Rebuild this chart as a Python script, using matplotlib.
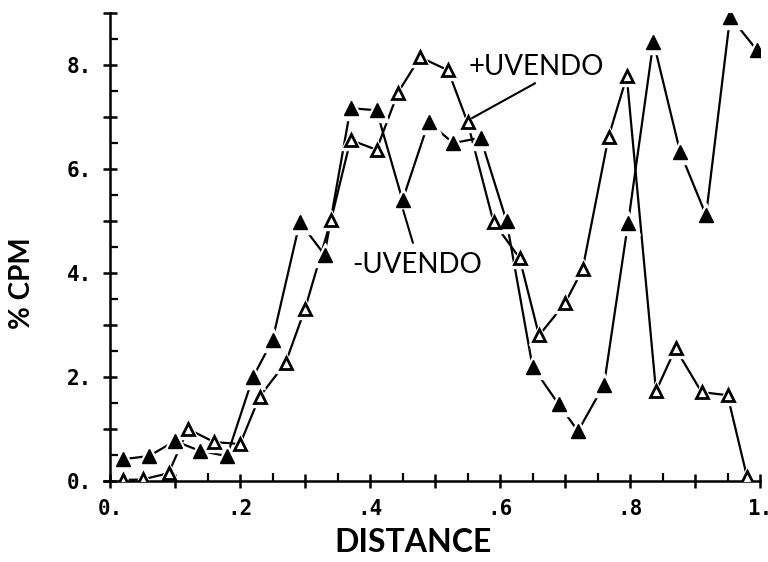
import numpy as np
import matplotlib
matplotlib.use('Agg')
import matplotlib.pyplot as plt
from matplotlib.ticker import MultipleLocator, FuncFormatter

# -UVENDO (filled triangles)
minus_x = [0.02, 0.06, 0.10, 0.138, 0.18, 0.22, 0.25, 0.292, 0.33, 0.37, 0.41, 0.45, 0.49,
           0.528, 0.57, 0.61, 0.65, 0.69, 0.72, 0.76, 0.797, 0.836, 0.877, 0.917, 0.954, 0.995]
minus_y = [0.42, 0.48, 0.77, 0.58, 0.48, 2.0, 2.71, 4.98, 4.35, 7.17, 7.13, 5.4, 6.9,
           6.5, 6.6, 5.0, 2.2, 1.48, 0.96, 1.85, 4.96, 8.45, 6.33, 5.11, 8.93, 8.29]

# +UVENDO (open triangles)
plus_x = [0.02, 0.05, 0.09, 0.12, 0.16, 0.20, 0.23, 0.27, 0.30, 0.34, 0.37, 0.41, 0.443, 0.477,
          0.52, 0.55, 0.59, 0.63, 0.66, 0.70, 0.727, 0.767, 0.795, 0.84, 0.87, 0.91, 0.95, 0.98]
plus_y = [0.02, 0.03, 0.15, 1.0, 0.75, 0.71, 1.62, 2.27, 3.31, 5.02, 6.56, 6.37, 7.47, 8.15,
          7.9, 6.9, 4.98, 4.29, 2.8, 3.42, 4.07, 6.62, 7.78, 1.73, 2.55, 1.71, 1.65, 0.08]

x_labels = {0: '0.', 2: '.2', 4: '.4', 6: '.6', 8: '.8', 10: '1.'}

plt.rcParams['font.weight'] = 'bold'

fig = plt.figure(figsize=(7.68, 5.62), dpi=100)
ax = fig.add_axes([0.1348, 0.1441, 0.8548, 0.8327])

lw = 1.6
# lines first, then white halos for the gaps, then the markers
ax.plot(minus_x, minus_y, color='black', lw=lw, zorder=1)
ax.plot(plus_x, plus_y, color='black', lw=lw, zorder=1)
ax.plot(minus_x, minus_y, ls='none', marker='^', ms=17, color='white', zorder=2)
ax.plot(plus_x, plus_y, ls='none', marker='^', ms=15, color='white', zorder=2)
ax.plot(minus_x, minus_y, ls='none', marker='^', ms=10, color='black', zorder=3)
ax.plot(plus_x, plus_y, ls='none', marker='^', ms=8, mfc='white', mec='black', mew=2, zorder=3)

# labels with pointer lines
ax.text(0.551, 7.96, '+UVENDO', family='Lato', fontweight='normal', fontsize=20,
        va='center', ha='left')
ax.annotate('', xy=(0.557, 6.98), xytext=(0.654, 7.65),
            arrowprops=dict(arrowstyle='-', lw=1.5, color='black', shrinkA=0, shrinkB=0))
ax.text(0.372, 4.15, '-UVENDO', family='Lato', fontweight='normal', fontsize=20,
        va='center', ha='left')
ax.annotate('', xy=(0.451, 5.21), xytext=(0.466, 4.58),
            arrowprops=dict(arrowstyle='-', lw=1.5, color='black', shrinkA=0, shrinkB=0))

ax.set_xlim(-0.01, 1.0)
ax.set_ylim(0, 9)
ax.spines['left'].set_position(('data', 0))
ax.spines['right'].set_visible(False)
ax.spines['top'].set_visible(False)
for s in ['left', 'bottom']:
    ax.spines[s].set_linewidth(1.8)

ax.xaxis.set_major_locator(MultipleLocator(0.1))
ax.xaxis.set_minor_locator(MultipleLocator(0.05))
ax.xaxis.set_major_formatter(FuncFormatter(lambda v, p: x_labels.get(int(round(v * 10)), '')))
ax.yaxis.set_major_locator(MultipleLocator(1))
ax.yaxis.set_minor_locator(MultipleLocator(0.5))
ax.yaxis.set_major_formatter(FuncFormatter(
    lambda v, p: f'{int(round(v))}.' if round(v) % 2 == 0 and v < 8.5 else ''))

ax.tick_params(which='major', direction='inout', length=10, width=1.8, pad=8,
               labelsize=15, labelfontfamily='DejaVu Sans Mono')
ax.tick_params(which='minor', direction='in', length=6, width=1.6)

fig.text(413 / 768, 1 - 543 / 562, 'DISTANCE', family='Lato', fontweight='bold',
         fontsize=23, ha='center', va='center')
fig.text(22 / 768, 1 - 283 / 562, '% CPM', family='Lato', fontweight='bold',
         fontsize=20, ha='center', va='center', rotation=90)

fig.savefig('out.png', dpi=100)
